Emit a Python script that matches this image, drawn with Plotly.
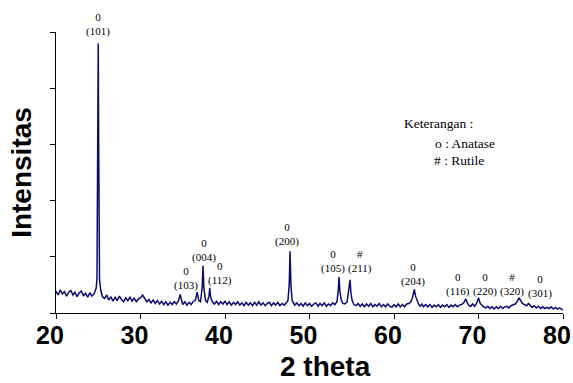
import plotly.graph_objects as go

# ---- data (2theta in degrees, intensity in arbitrary units) ----
two_theta = [
    20.0, 20.25, 20.5, 20.75, 21.0, 21.25, 21.5, 21.75, 22.0, 22.25, 22.5, 22.75,
    23.0, 23.25, 23.5, 23.75, 24.0, 24.25, 24.5, 24.75, 24.85, 24.95, 25.0, 25.05,
    25.15, 25.3, 25.5, 25.75, 26.0, 26.25, 26.5, 26.75, 27.0, 27.25, 27.5, 27.75,
    28.0, 28.25, 28.5, 28.75, 29.0, 29.25, 29.5, 29.75, 30.0, 30.25, 30.5, 30.75,
    31.0, 31.25, 31.5, 31.75, 32.0, 32.25, 32.5, 32.75, 33.0, 33.25, 33.5, 33.75,
    34.0, 34.25, 34.5, 34.7, 34.9, 35.0, 35.25, 35.5, 35.75, 36.0, 36.25, 36.5,
    36.7, 36.9, 37.1, 37.3, 37.4, 37.5, 37.7, 37.9, 38.1, 38.2, 38.3, 38.5,
    38.75, 39.0, 39.25, 39.5, 39.75, 40.0, 40.25, 40.5, 40.75, 41.0, 41.25, 41.5,
    41.75, 42.0, 42.25, 42.5, 42.75, 43.0, 43.25, 43.5, 43.75, 44.0, 44.25, 44.5,
    44.75, 45.0, 45.25, 45.5, 45.75, 46.0, 46.25, 46.5, 46.75, 47.0, 47.25, 47.45,
    47.6, 47.7, 47.8, 47.95, 48.1, 48.25, 48.5, 48.75, 49.0, 49.25, 49.5, 49.75,
    50.0, 50.25, 50.5, 50.75, 51.0, 51.25, 51.5, 51.75, 52.0, 52.25, 52.5, 52.75,
    53.0, 53.25, 53.4, 53.5, 53.6, 53.75, 53.95, 54.2, 54.45, 54.65, 54.8, 54.9,
    55.05, 55.25, 55.5, 55.75, 56.0, 56.25, 56.5, 56.75, 57.0, 57.25, 57.5, 57.75,
    58.0, 58.25, 58.5, 58.75, 59.0, 59.25, 59.5, 59.75, 60.0, 60.25, 60.5, 60.75,
    61.0, 61.25, 61.5, 61.75, 62.0, 62.2, 62.4, 62.55, 62.7, 62.9, 63.1, 63.3,
    63.5, 63.75, 64.0, 64.25, 64.5, 64.75, 65.0, 65.25, 65.5, 65.75, 66.0, 66.25,
    66.5, 66.75, 67.0, 67.25, 67.5, 67.75, 68.0, 68.25, 68.5, 68.7, 68.9, 69.1,
    69.3, 69.55, 69.8, 70.0, 70.2, 70.4, 70.6, 70.85, 71.1, 71.35, 71.6, 71.85,
    72.1, 72.35, 72.6, 72.85, 73.1, 73.35, 73.6, 73.85, 74.1, 74.35, 74.6, 74.8,
    75.0, 75.2, 75.45, 75.7, 75.9, 76.1, 76.35, 76.6, 76.85, 77.1, 77.35, 77.6,
    77.85, 78.1, 78.35, 78.6, 78.85, 79.1, 79.35, 79.6, 79.85, 80.0,
]
intensity = [
    39, 32, 41, 34, 38, 30, 37, 40, 32, 37, 29, 36,
    39, 31, 35, 28, 36, 30, 34, 44, 60, 300, 480, 300,
    60, 40, 29, 26, 32, 23, 29, 21, 28, 22, 30, 24,
    20, 27, 22, 28, 21, 26, 20, 25, 27, 32, 26, 20,
    24, 18, 23, 17, 22, 16, 21, 15, 20, 14, 19, 15,
    20, 16, 22, 33, 21, 15, 20, 14, 19, 15, 21, 23,
    37, 22, 20, 45, 84, 45, 22, 19, 30, 45, 28, 20,
    16, 21, 15, 20, 16, 21, 15, 20, 14, 19, 15, 20,
    14, 18, 13, 19, 14, 18, 13, 19, 14, 20, 14, 18,
    13, 17, 19, 13, 18, 14, 19, 13, 17, 14, 18, 22,
    50, 110, 50, 22, 18, 14, 18, 13, 17, 12, 18, 13,
    17, 12, 16, 18, 12, 17, 13, 18, 12, 16, 13, 18,
    15, 20, 40, 64, 38, 24, 17, 16, 20, 40, 59, 36,
    22, 15, 13, 17, 12, 16, 11, 16, 12, 17, 11, 15,
    12, 17, 11, 15, 11, 16, 12, 10, 15, 11, 16, 11,
    15, 11, 16, 17, 20, 28, 42, 30, 22, 16, 12, 16,
    11, 15, 11, 15, 10, 14, 11, 15, 10, 14, 11, 15,
    10, 14, 11, 15, 11, 14, 15, 18, 25, 17, 13, 12,
    16, 12, 18, 27, 17, 13, 11, 9, 12, 8, 11, 7,
    11, 8, 12, 8, 11, 12, 9, 13, 14, 16, 21, 27,
    22, 17, 15, 13, 17, 13, 10, 13, 9, 12, 8, 11,
    8, 10, 8, 11, 7, 10, 7, 9, 6, 5,
]

# peak annotations: phase symbol and Miller indices
peak_hkl = ["(101)", "(103)", "(004)", "(112)", "(200)", "(105)",
            "(211)", "(204)", "(116)", "(220)", "(320)", "(301)"]
peak_phase = ["0", "0", "0", "0", "0", "0", "#", "0", "0", "0", "#", "0"]

x_title = "2 theta"
y_title = "Intensitas"

# label placement (layout: x in 2theta, y as fraction of plot height)
label_x = [24.97, 35.33, 37.57, 39.41, 47.34, 52.78, 55.98, 62.19, 67.57, 70.77, 74.02, 77.28]
label_y = [1.026, 0.122, 0.224, 0.142, 0.278, 0.182, 0.182, 0.138, 0.100, 0.100, 0.100, 0.094]

line_color = "#0b0b70"
serif = "Liberation Serif, Times New Roman, serif"
sans = "Liberation Sans, Arial, sans-serif"

fig = go.Figure()
fig.add_trace(go.Scatter(
    x=two_theta, y=intensity, mode="lines",
    line=dict(color=line_color, width=1.5),
    showlegend=False, hoverinfo="x+y",
))

annotations = []
for sym, hkl, lx, ly in zip(peak_phase, peak_hkl, label_x, label_y):
    annotations.append(dict(
        x=lx, y=ly, xref="x", yref="paper", text=f"{sym}<br>{hkl}",
        showarrow=False, xanchor="center", yanchor="middle",
        font=dict(family=serif, size=11, color="black"),
    ))

def px_to_paper(px, py):
    return (px - 56) / 507.0, (313 - py) / 281.0

# legend text box (Keterangan)
for txt, px, py in [("Keterangan :", 402, 124), ("o : Anatase", 433, 143), ("# : Rutile", 432, 160)]:
    xp, yp = px_to_paper(px, py)
    annotations.append(dict(
        x=xp, y=yp, xref="paper", yref="paper", text=txt, showarrow=False,
        xanchor="left", yanchor="middle",
        font=dict(family=serif, size=13.5, color="black"),
    ))

# x-axis title (placed as in the reference, slightly right of centre)
xp, yp = px_to_paper(325, 383)
annotations.append(dict(
    x=xp, y=yp, xref="paper", yref="paper", text=x_title, showarrow=False,
    xanchor="center", yanchor="bottom", borderpad=0,
    font=dict(family=sans, size=28, color="black", weight="bold"),
))

fig.update_layout(
    width=573, height=383,
    margin=dict(l=56, r=10, t=32, b=70, autoexpand=False),
    paper_bgcolor="white", plot_bgcolor="white",
    annotations=annotations,
    xaxis=dict(
        range=[20, 80], dtick=10, tick0=20, automargin=False,
        showline=True, linecolor="black", linewidth=1,
        ticks="outside", ticklen=5, tickcolor="black",
        showgrid=False, zeroline=False,
        ticklabelshift=-6, ticklabelstandoff=-5,
        tickfont=dict(family=sans, size=25, color="black", weight="bold"),
    ),
    yaxis=dict(
        range=[0, 500], dtick=100, tick0=0, automargin=False,
        showline=True, linecolor="black", linewidth=1,
        ticks="outside", ticklen=5, tickcolor="black",
        showgrid=False, zeroline=False, showticklabels=False,
        title=dict(text=y_title, standoff=10,
                   font=dict(family=sans, size=28, color="black", weight="bold")),
    ),
)

fig.write_html("out.html")
